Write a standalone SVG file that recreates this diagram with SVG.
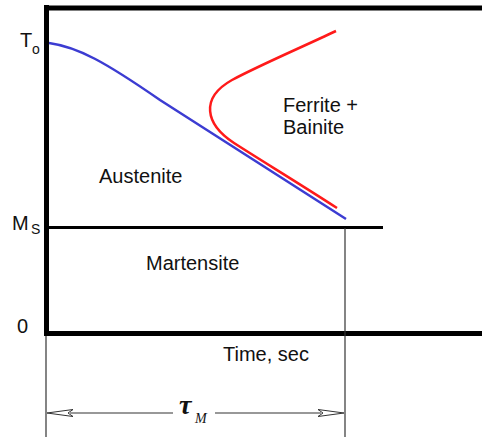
<svg xmlns="http://www.w3.org/2000/svg" width="482" height="437" viewBox="0 0 482 437">
<style>
.lbl{font-family:"Liberation Sans",Arial,sans-serif;font-size:20px;fill:#111}
.sub{font-family:"Liberation Sans",Arial,sans-serif;font-size:14px;fill:#111}
.ax{stroke:#000;fill:none}
.thin{stroke:#333;stroke-width:1.2;fill:none}
.arr{stroke:#333;stroke-width:1;fill:#fff}
</style>
<rect width="482" height="437" fill="#fff"/>
<g id="axes">
<line class="ax" x1="46.5" y1="5" x2="46.5" y2="336" stroke-width="5"/>
<line class="ax" x1="44" y1="8" x2="482" y2="8" stroke-width="5"/>
<line class="ax" x1="44" y1="333.5" x2="482" y2="333.5" stroke-width="5"/>
<line class="ax" x1="49" y1="227.5" x2="383" y2="227.5" stroke-width="3"/>
</g>
<g id="connectors">
<path id="cooling" d="M49,43 C78,47 105,62 160,100 L346,219" fill="none" stroke="#3c3cd2" stroke-width="2.5"/>
<path id="c-curve" d="M336,31 C300,48 258,66 232,80 C200,98 205,124 234,143 C262,161 300,184 337,208" fill="none" stroke="#ff1a1a" stroke-width="2.5"/>
<line class="thin" x1="46" y1="336" x2="46" y2="437"/>
<line class="thin" x1="345" y1="228" x2="345" y2="437"/>
<line class="thin" x1="70" y1="413" x2="173" y2="413"/>
<line class="thin" x1="215" y1="413" x2="321" y2="413"/>
<path class="arr" d="M47,413 L73,409.5 L68,413 L73,416.5 Z"/>
<path class="arr" d="M344,413 L318,409.5 L323,413 L318,416.5 Z"/>
</g>
<g id="T0"><text class="lbl" x="20" y="47">T</text><text class="sub" x="32" y="54">o</text></g>
<g id="Ms"><text class="lbl" x="12" y="230">M</text><text class="sub" x="31" y="234">S</text></g>
<g id="zero"><text class="lbl" x="17" y="333">0</text></g>
<g id="austenite"><text class="lbl" x="99" y="183">Austenite</text></g>
<g id="ferrite-bainite"><text class="lbl" x="283" y="112">Ferrite +</text><text class="lbl" x="283" y="134">Bainite</text></g>
<g id="martensite"><text class="lbl" x="146" y="270">Martensite</text></g>
<g id="time"><text class="lbl" x="223" y="361">Time, sec</text></g>
<g id="tau"><text x="179" y="414" font-family="Liberation Serif,serif" font-style="italic" font-weight="bold" font-size="28" fill="#111">τ</text><text x="195" y="423" font-family="Liberation Serif,serif" font-style="italic" font-size="14" fill="#111">M</text></g>
</svg>
